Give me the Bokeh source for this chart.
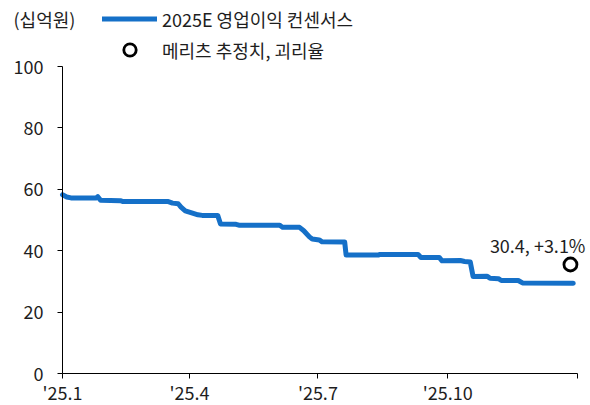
import pandas as pd
from bokeh.plotting import figure
from bokeh.models import Range1d, FixedTicker, Legend, LegendItem, Label, ColumnDataSource
from bokeh.embed import file_html
from bokeh.resources import INLINE

# ---- data ----
dates = ["2025-01-01", "2025-01-04", "2025-01-07", "2025-01-25", "2025-01-26", "2025-01-28",
         "2025-02-11", "2025-02-13", "2025-03-17", "2025-03-20", "2025-03-24", "2025-03-26",
         "2025-03-29", "2025-04-02", "2025-04-07", "2025-04-10", "2025-04-21", "2025-04-23",
         "2025-05-04", "2025-05-06", "2025-06-04", "2025-06-06", "2025-06-18", "2025-06-21",
         "2025-06-25", "2025-06-27", "2025-07-02", "2025-07-04", "2025-07-20", "2025-07-21",
         "2025-08-13", "2025-08-14", "2025-09-10", "2025-09-12", "2025-09-25", "2025-09-27",
         "2025-10-10", "2025-10-13", "2025-10-17", "2025-10-19", "2025-10-29", "2025-10-31",
         "2025-11-06", "2025-11-08", "2025-11-20", "2025-11-23", "2025-12-29"]
consensus = [58.2, 57.5, 57.2, 57.2, 57.6, 56.4,
             56.3, 56.0, 56.0, 55.5, 55.3, 54.2,
             53.0, 52.4, 51.7, 51.5, 51.5, 48.7,
             48.6, 48.3, 48.3, 47.6, 47.6, 46.5,
             44.5, 43.8, 43.5, 42.9, 42.8, 38.6,
             38.6, 38.8, 38.8, 37.8, 37.8, 36.7,
             36.8, 36.5, 36.3, 31.6, 31.7, 31.0,
             30.9, 30.3, 30.3, 29.5, 29.4]
est_date = ["2025-12-27"]
est_value = [35.5]
est_label = "30.4, +3.1%"
tick_dates = ["2025-01-01", "2025-04-01", "2025-07-01", "2025-10-01", "2026-01-01"]
tick_labels = ["'25.1", "'25.4", "'25.7", "'25.10", ""]
y_ticks = [0, 20, 40, 60, 80, 100]
series_name = "2025E 영업이익 컨센서스"
est_name = "메리츠 추정치, 괴리율"
unit_text = "(십억원)"

FONT = "Noto Sans CJK KR"
FS = "18px"
BLUE = "#1570C8"
TXT = "#1E1E1E"

# ---- layout (pixels) ----
W, H = 590, 405
AX_L, AX_R, AX_T, AX_B = 62, 577, 66, 373   # axis box on the canvas

x0 = pd.Timestamp(tick_dates[0])
x1 = pd.Timestamp(tick_dates[-1])
ms_per_px = (x1 - x0) / (AX_R - AX_L)
xs = x0 - ms_per_px * AX_L
xe = x1 + ms_per_px * (W - AX_R)
v_per_px = (y_ticks[-1] - y_ticks[0]) / (AX_B - AX_T)
ys = y_ticks[0] - v_per_px * (H - AX_B)
ye = y_ticks[-1] + v_per_px * AX_T

x = pd.to_datetime(dates)
src = ColumnDataSource(dict(x=x, y=consensus))
est_src = ColumnDataSource(dict(x=pd.to_datetime(est_date), y=est_value))

p = figure(width=W, height=H, x_axis_type="datetime",
           output_backend="svg", toolbar_location=None,
           min_border_left=0, min_border_right=0, min_border_top=0, min_border_bottom=0)
p.x_range = Range1d(xs, xe)
p.y_range = Range1d(ys, ye)
p.grid.visible = False
p.outline_line_color = None

line_r = p.line("x", "y", source=src, line_color=BLUE, line_width=5, line_join="round", line_cap="round")
circ_r = p.scatter("x", "y", source=est_src, size=13, marker="circle",
                   fill_color="white", line_color="black", line_width=2.8)

tick_ms = [int(pd.Timestamp(d).value // 10**6) for d in tick_dates]
p.xaxis.ticker = FixedTicker(ticks=tick_ms)
p.xaxis.major_label_overrides = {t: l for t, l in zip(tick_ms, tick_labels)}
p.xaxis.bounds = (tick_ms[0], tick_ms[-1])
p.xaxis.fixed_location = y_ticks[0]
p.yaxis.ticker = FixedTicker(ticks=y_ticks)
p.yaxis.bounds = (y_ticks[0], y_ticks[-1])
p.yaxis.fixed_location = tick_ms[0]

for ax in (p.xaxis[0], p.yaxis[0]):
    ax.axis_line_color = "black"
    ax.axis_line_width = 1
    ax.major_tick_line_color = "black"
    ax.major_tick_out = 5
    ax.major_tick_in = 0
    ax.minor_tick_out = 0
    ax.minor_tick_in = 0
    ax.major_label_text_font = FONT
    ax.major_label_text_font_size = FS
    ax.major_label_text_color = TXT
p.xaxis.major_label_standoff = 0
p.yaxis.major_label_standoff = 14

p.add_layout(Label(x=pd.Timestamp(est_date[0]), y=est_value[0], text=est_label,
                   x_offset=15, y_offset=20, text_align="right", text_baseline="middle",
                   text_font=FONT, text_font_size=FS, text_color=TXT))

p.add_layout(Label(x=13, y=H - 18, x_units="screen", y_units="screen", text=unit_text,
                   text_baseline="middle", text_font=FONT, text_font_size=FS,
                   text_color=TXT))

legend = Legend(items=[LegendItem(label=series_name, renderers=[line_r]),
                       LegendItem(label=est_name, renderers=[circ_r])],
                location=(102, H - 65), orientation="vertical",
                glyph_width=55, glyph_height=31, label_height=20, label_standoff=5,
                spacing=0, padding=0, margin=0,
                background_fill_alpha=0, border_line_alpha=0,
                label_text_font=FONT, label_text_font_size=FS, label_text_color=TXT)
p.add_layout(legend, "center")

open("out.html", "w").write(file_html(p, INLINE))
